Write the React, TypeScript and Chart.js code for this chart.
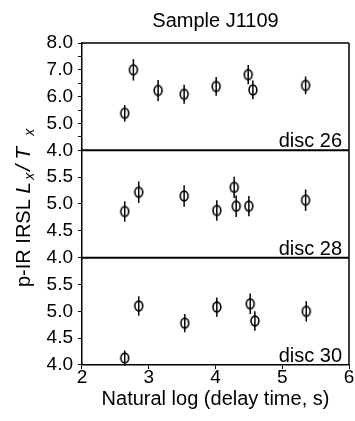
import React, { useEffect, useRef } from 'react';
import { Chart, registerables } from 'chart.js';

Chart.register(...registerables);

// ---- data ----
const chartTitle = 'Sample J1109';
const xAxisTitle = 'Natural log (delay time, s)';
const panelLabels = ['disc 26', 'disc 28', 'disc 30'];

const disc26X = [2.64, 2.77, 3.14, 3.53, 4.01, 4.49, 4.56, 5.35];
const disc26Y = [5.38, 7.0, 6.23, 6.09, 6.38, 6.82, 6.25, 6.42];
const disc26Err = [0.31, 0.4, 0.39, 0.35, 0.35, 0.36, 0.35, 0.33];

const disc28X = [2.64, 2.85, 3.53, 4.02, 4.28, 4.31, 4.5, 5.35];
const disc28Y = [4.86, 5.22, 5.15, 4.88, 5.31, 4.96, 4.96, 5.07];
const disc28Err = [0.19, 0.2, 0.2, 0.19, 0.2, 0.2, 0.19, 0.2];

const disc30X = [2.64, 2.85, 3.54, 4.02, 4.52, 4.59, 5.36];
const disc30Y = [4.13, 5.1, 4.78, 5.08, 5.14, 4.82, 5.0];
const disc30Err = [0.14, 0.18, 0.17, 0.18, 0.19, 0.18, 0.19];

const xRange = [2, 6];
const panel1Range = [4, 8];
const panel2Range = [4, 6];
const panel3Range = [4, 6];

const FONT = '"Liberation Sans", Arial, Helvetica, sans-serif';

function makeMarker(): HTMLCanvasElement {
  const c = document.createElement('canvas');
  c.width = 12;
  c.height = 14;
  const g = c.getContext('2d')!;
  g.strokeStyle = '#000';
  g.lineWidth = 1.6;
  g.beginPath();
  g.ellipse(6, 7, 3.9, 4.9, 0, 0, Math.PI * 2);
  g.stroke();
  return c;
}

const errorBars = {
  id: 'errorBars',
  beforeDatasetsDraw(chart: any) {
    const ctx = chart.ctx;
    ctx.save();
    ctx.strokeStyle = '#000';
    ctx.lineWidth = 1.5;
    chart.data.datasets.forEach((ds: any) => {
      const xs = chart.scales.x;
      const ys = chart.scales[ds.yAxisID];
      ds.data.forEach((p: any, i: number) => {
        const e = ds.errors[i];
        const px = xs.getPixelForValue(p.x);
        ctx.beginPath();
        ctx.moveTo(px, ys.getPixelForValue(p.y - e));
        ctx.lineTo(px, ys.getPixelForValue(p.y + e));
        ctx.stroke();
      });
    });
    ctx.restore();
  },
};

const frame = {
  id: 'frame',
  afterDraw(chart: any) {
    const ctx = chart.ctx;
    const a = chart.chartArea;
    ctx.save();
    ctx.strokeStyle = '#000';
    ['y1', 'y2', 'y3'].forEach((id, i) => {
      const s = chart.scales[id];
      ctx.lineWidth = i === 0 ? 1.5 : 2;
      ctx.beginPath();
      ctx.moveTo(a.left, s.top);
      ctx.lineTo(a.right, s.top);
      ctx.stroke();
      // panel label
      ctx.fillStyle = '#000';
      ctx.font = '20px ' + FONT;
      ctx.textAlign = 'right';
      ctx.textBaseline = 'alphabetic';
      ctx.fillText(panelLabels[i], a.right - 7, s.bottom - 3);
    });
    ctx.lineWidth = 1.5;
    ctx.beginPath();
    ctx.moveTo(a.right, a.top);
    ctx.lineTo(a.right, a.bottom);
    ctx.stroke();

    // chart title
    ctx.font = '20px ' + FONT;
    ctx.textAlign = 'center';
    ctx.fillText(chartTitle, (a.left + a.right) / 2, 27);

    // y title with italic and subscripts
    ctx.translate(30, 287);
    ctx.rotate(-Math.PI / 2);
    ctx.textAlign = 'left';
    ctx.font = '20px ' + FONT;
    const main = 'p-IR IRSL ';
    ctx.fillText(main, 0, 0);
    const base = ctx.measureText(main).width;
    const segs = [
      { t: 'L', f: 'italic 21px ' + FONT, off: 0, dy: 0 },
      { t: 'x', f: 'italic 14px ' + FONT, off: 14, dy: 4 },
      { t: '/', f: 'italic 21px ' + FONT, off: 23, dy: 0 },
      { t: 'T', f: 'italic 21px ' + FONT, off: 34, dy: 0 },
      { t: 'x', f: 'italic 14px ' + FONT, off: 58, dy: 4 },
    ];
    segs.forEach((s) => {
      ctx.font = s.f;
      ctx.fillText(s.t, base + s.off, s.dy);
    });
    ctx.restore();
  },
};

function yScale(range: number[], weight: number, labelFn: (v: number) => string) {
  return {
    type: 'linear',
    position: 'left',
    stack: 'panels',
    stackWeight: 1,
    weight,
    min: range[0],
    max: range[1],
    afterFit: (s: any) => {
      s.width = 52;
    },
    ticks: {
      stepSize: 0.5,
      autoSkip: false,
      color: '#000',
      padding: 5,
      font: { family: FONT, size: 19 },
      callback: (v: any) => labelFn(Number(v)),
    },
    grid: {
      drawOnChartArea: false,
      color: '#000',
      tickLength: 4,
      lineWidth: 1,
    },
    border: { color: '#000', width: 1.5 },
  };
}

export default function App() {
  const ref = useRef<HTMLCanvasElement>(null);
  useEffect(() => {
    const marker = makeMarker();
    const mk = (id: string, xs: number[], ys: number[], errs: number[]) => ({
      yAxisID: id,
      data: xs.map((x, i) => ({ x, y: ys[i] })),
      errors: errs,
      showLine: false,
      pointStyle: marker,
      pointRadius: 5,
    });
    const chart = new Chart(ref.current!, {
      type: 'scatter',
      data: {
        datasets: [
          mk('y1', disc26X, disc26Y, disc26Err),
          mk('y2', disc28X, disc28Y, disc28Err),
          mk('y3', disc30X, disc30Y, disc30Err),
        ] as any,
      },
      options: {
        responsive: false,
        animation: false,
        devicePixelRatio: 1,
        layout: { padding: { left: 30, top: 43, right: 5, bottom: 0 } },
        plugins: { legend: { display: false }, tooltip: { enabled: false } },
        scales: {
          x: {
            type: 'linear',
            position: 'bottom',
            min: xRange[0],
            max: xRange[1],
            afterFit: (s: any) => {
              s.height = 56;
            },
            ticks: {
              stepSize: 1,
              color: '#000',
              padding: -3,
              font: { family: FONT, size: 19 },
              callback: (v: any) => String(v),
            },
            grid: { drawOnChartArea: false, color: '#000', tickLength: 4, lineWidth: 1 },
            border: { color: '#000', width: 1.5 },
            title: {
              display: true,
              text: xAxisTitle,
              color: '#000',
              font: { family: FONT, size: 20 },
              padding: { top: 0, bottom: 10 },
            },
          },
          y1: yScale(panel1Range, 3, (v) => (Number.isInteger(v) ? v.toFixed(1) : '')),
          y2: yScale(panel2Range, 2, (v) => (v === 6 ? '' : v.toFixed(1))),
          y3: yScale(panel3Range, 1, (v) => (v === 6 ? '' : v.toFixed(1))),
        } as any,
      },
      plugins: [errorBars, frame],
    });
    return () => chart.destroy();
  }, []);
  return (
    <div style={{ position: 'absolute', left: 0, top: 0, width: 355, height: 421, background: '#fff' }}>
      <canvas ref={ref} width={355} height={421} />
    </div>
  );
}
